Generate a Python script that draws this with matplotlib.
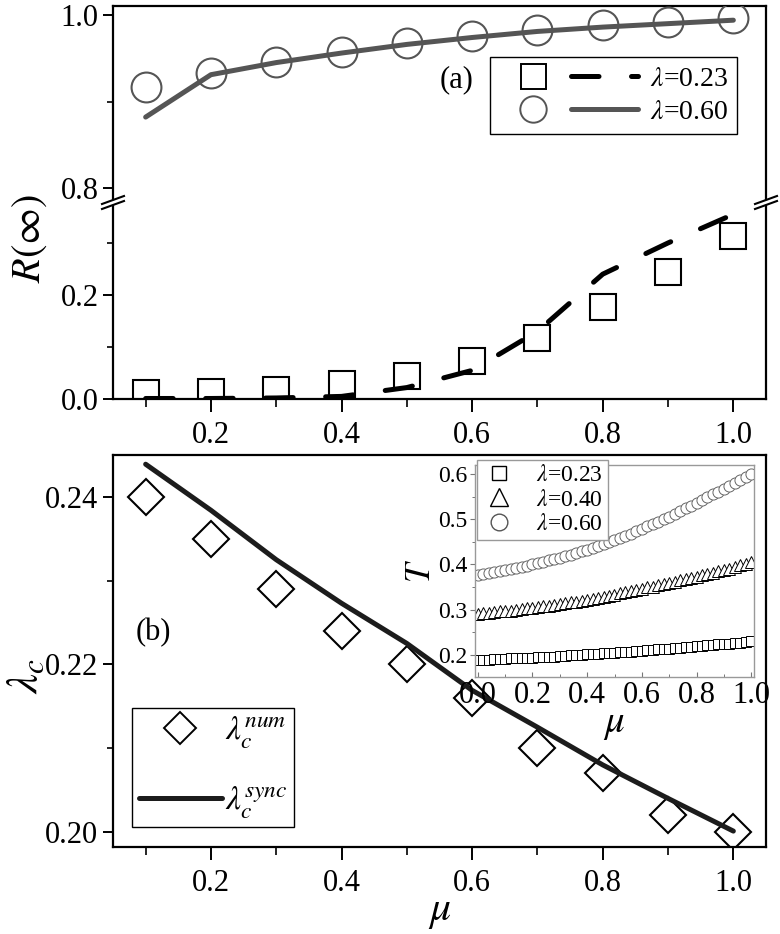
import numpy as np
import matplotlib
matplotlib.use('Agg')
import matplotlib.pyplot as plt
from matplotlib.lines import Line2D
from matplotlib.legend_handler import HandlerTuple
from matplotlib.ticker import MultipleLocator

plt.rcParams['font.family'] = ['Liberation Serif', 'DejaVu Serif']
plt.rcParams['mathtext.fontset'] = 'stix'

# ---- data ----
mu = [0.1, 0.2, 0.3, 0.4, 0.5, 0.6, 0.7, 0.8, 0.9, 1.0]

# panel (a)
R_sim_023 = [0.011, 0.014, 0.018, 0.028, 0.044, 0.073, 0.117, 0.177, 0.244, 0.313]
R_th_023 = [0.001, 0.001, 0.002, 0.005, 0.022, 0.055, 0.130, 0.240, 0.300, 0.355]
R_sim_060 = [0.917, 0.933, 0.946, 0.957, 0.968, 0.976, 0.983, 0.988, 0.992, 0.996]
R_th_060 = [0.882, 0.931, 0.945, 0.956, 0.966, 0.974, 0.981, 0.986, 0.990, 0.994]

# panel (b)
lam_num = [0.240, 0.235, 0.229, 0.224, 0.220, 0.216, 0.210, 0.207, 0.202, 0.200]
lam_sync = [0.2439, 0.2384, 0.2325, 0.2273, 0.2225, 0.2169, 0.2125, 0.2080, 0.2040, 0.2001]

# inset
mu_in = [0.00, 0.02, 0.04, 0.06, 0.08, 0.10, 0.12, 0.14, 0.16, 0.18,
         0.20, 0.22, 0.24, 0.26, 0.28, 0.30, 0.32, 0.34, 0.36, 0.38,
         0.40, 0.42, 0.44, 0.46, 0.48, 0.50, 0.52, 0.54, 0.56, 0.58,
         0.60, 0.62, 0.64, 0.66, 0.68, 0.70, 0.72, 0.74, 0.76, 0.78,
         0.80, 0.82, 0.84, 0.86, 0.88, 0.90, 0.92, 0.94, 0.96, 0.98, 1.00]
T_023 = [0.188, 0.189, 0.189, 0.190, 0.190, 0.191, 0.192, 0.192, 0.193, 0.193,
         0.194, 0.195, 0.195, 0.196, 0.196, 0.197, 0.198, 0.199, 0.199, 0.200,
         0.201, 0.202, 0.202, 0.203, 0.204, 0.205, 0.206, 0.207, 0.207, 0.208,
         0.209, 0.210, 0.211, 0.212, 0.213, 0.214, 0.215, 0.216, 0.217, 0.218,
         0.219, 0.220, 0.221, 0.222, 0.223, 0.224, 0.225, 0.226, 0.227, 0.229, 0.230]
T_040 = [0.291, 0.292, 0.293, 0.294, 0.296, 0.297, 0.298, 0.300, 0.301, 0.303,
         0.304, 0.306, 0.307, 0.309, 0.310, 0.312, 0.314, 0.316, 0.318, 0.320,
         0.322, 0.324, 0.326, 0.328, 0.331, 0.333, 0.336, 0.338, 0.341, 0.343,
         0.346, 0.349, 0.351, 0.354, 0.356, 0.359, 0.362, 0.365, 0.367, 0.370,
         0.373, 0.376, 0.379, 0.382, 0.385, 0.388, 0.391, 0.395, 0.398, 0.402, 0.405]
T_060 = [0.377, 0.379, 0.381, 0.383, 0.385, 0.388, 0.390, 0.392, 0.395, 0.397,
         0.400, 0.403, 0.406, 0.409, 0.412, 0.415, 0.418, 0.422, 0.425, 0.429,
         0.433, 0.437, 0.441, 0.445, 0.449, 0.454, 0.459, 0.463, 0.468, 0.473,
         0.478, 0.484, 0.489, 0.495, 0.500, 0.506, 0.512, 0.518, 0.524, 0.530,
         0.537, 0.543, 0.549, 0.555, 0.561, 0.567, 0.573, 0.580, 0.586, 0.593, 0.600]
mu_line = [0.0, 0.1, 0.2, 0.3, 0.4, 0.5, 0.6, 0.7, 0.8, 0.9, 1.0]
Tline_023 = [0.181, 0.184, 0.187, 0.190, 0.194, 0.198, 0.202, 0.206, 0.211, 0.216, 0.221]
Tline_040 = [0.282, 0.287, 0.294, 0.302, 0.311, 0.322, 0.334, 0.346, 0.360, 0.376, 0.393]

GRAY = '#555555'
W, H = 780, 934

fig = plt.figure(figsize=(7.8, 9.34), dpi=100)


def box(x0, y0, x1, y1):
    # pixel box (top-left origin) -> figure fraction rect
    return [x0 / W, 1 - y1 / H, (x1 - x0) / W, (y1 - y0) / H]


ax_hi = fig.add_axes(box(113, 6, 766, 199))
ax_lo = fig.add_axes(box(113, 206, 766, 399))
ax_b = fig.add_axes(box(113, 455, 766, 847))
ax_in = fig.add_axes(box(475, 465, 754, 677))


def style_ax(ax, lab=22):
    for s in ax.spines.values():
        s.set_linewidth(1.6)
    ax.tick_params(which='major', direction='out', length=7, width=1.4, labelsize=lab)
    ax.tick_params(which='minor', direction='out', length=4.5, width=1.2)
    ax.tick_params(top=False, right=False)


# ---- panel (a) ----
ax_hi.plot(mu, R_th_060, color=GRAY, lw=3.6, solid_capstyle='round', zorder=2)
ax_hi.plot(mu, R_sim_060, ls='none', marker='o', ms=21.5, mfc='none', mec=GRAY, mew=1.5, zorder=3)
ax_lo.plot(mu, R_sim_023, ls='none', marker='s', ms=18.2, mfc='white', mec='black', mew=1.5, zorder=2)
ax_lo.plot(mu, R_th_023, color='black', lw=3.6, dashes=(5.5, 6.5), dash_capstyle='round', zorder=3)

for ax in (ax_hi, ax_lo):
    ax.set_xlim(0.05, 1.05)
    style_ax(ax)
    ax.xaxis.set_major_locator(MultipleLocator(0.2))
    ax.xaxis.set_minor_locator(MultipleLocator(0.1))

ax_hi.set_ylim(0.7873, 1.0104)
ax_hi.yaxis.set_major_locator(MultipleLocator(0.2))
ax_hi.yaxis.set_minor_locator(MultipleLocator(0.1))
ax_hi.yaxis.set_major_formatter(plt.FormatStrFormatter('%.1f'))
ax_hi.spines['bottom'].set_visible(False)
ax_hi.tick_params(which='both', bottom=False, labelbottom=False)

ax_lo.set_ylim(0, 0.371)
ax_lo.yaxis.set_major_locator(MultipleLocator(0.2))
ax_lo.yaxis.set_minor_locator(MultipleLocator(0.1))
ax_lo.yaxis.set_major_formatter(plt.FormatStrFormatter('%.1f'))
ax_lo.xaxis.set_major_formatter(plt.FormatStrFormatter('%.1f'))
ax_lo.spines['top'].set_visible(False)
ax_lo.tick_params(axis='x', which='major', length=9, pad=7)
ax_lo.tick_params(axis='x', which='minor', length=6)

# break marks
for xc in (113, 766):
    for dy in (0, 5):
        x0, y0, x1, y1 = xc - 11, 209 - dy, xc + 11, 201 - dy
        fig.add_artist(Line2D([x0 / W, x1 / W], [1 - y0 / H, 1 - y1 / H],
                              color='black', lw=1.5, transform=fig.transFigure))

fig.text(30 / W, 1 - 238 / H, r'$R(\infty)$', fontsize=29, rotation=90,
         ha='center', va='center')
fig.text(457 / W, 1 - 80 / H, '(a)', fontsize=22, ha='center', va='center')

h_sq = Line2D([], [], ls='none', marker='s', ms=18, mfc='white', mec='black', mew=1.4)
h_da = Line2D([], [], color='black', lw=3.6, dashes=(5.5, 6.5), dash_capstyle='round')
h_ci = Line2D([], [], ls='none', marker='o', ms=19, mfc='none', mec=GRAY, mew=1.4)
h_so = Line2D([], [], color=GRAY, lw=3.6, solid_capstyle='round')
leg_a = ax_hi.legend([(h_sq, h_da), (h_ci, h_so)], [r'$\lambda$=0.23', r'$\lambda$=0.60'],
                     handler_map={tuple: HandlerTuple(ndivide=None, pad=0.15)},
                     loc='upper left', bbox_to_anchor=(0.577, 0.736), borderaxespad=0,
                     fontsize=20, handlelength=5, handletextpad=0.4, labelspacing=0.25,
                     borderpad=0.35, fancybox=False, edgecolor='black', framealpha=1)
leg_a.get_frame().set_linewidth(1.0)

# ---- panel (b) ----
ax_b.plot(mu, lam_sync, color='#1c1c1c', lw=3.6, solid_capstyle='round', zorder=3)
ax_b.plot(mu, lam_num, ls='none', marker='D', ms=18.1, mfc='white', mec='black', mew=1.5, zorder=2)
ax_b.set_xlim(0.05, 1.05)
ax_b.set_ylim(0.1982, 0.245)
style_ax(ax_b)
ax_b.xaxis.set_major_locator(MultipleLocator(0.2))
ax_b.xaxis.set_minor_locator(MultipleLocator(0.1))
ax_b.xaxis.set_major_formatter(plt.FormatStrFormatter('%.1f'))
ax_b.yaxis.set_major_locator(MultipleLocator(0.02))
ax_b.yaxis.set_minor_locator(MultipleLocator(0.01))
ax_b.yaxis.set_major_formatter(plt.FormatStrFormatter('%.2f'))
ax_b.tick_params(axis='x', which='major', length=9, pad=7)
ax_b.tick_params(axis='x', which='minor', length=6)
fig.text(440 / W, 1 - 912 / H, r'$\mu$', fontsize=30, ha='center', va='center')
fig.text(27 / W, 1 - 676 / H, r'$\lambda_c$', fontsize=32, rotation=90,
         ha='center', va='center')
ax_b.text(0.062, 0.547, '(b)', transform=ax_b.transAxes, fontsize=22,
          ha='center', va='center')

h_di = Line2D([], [], ls='none', marker='D', ms=16, mfc='white', mec='black', mew=1.4)
h_ln = Line2D([], [], color='#1c1c1c', lw=3.6, solid_capstyle='round')
leg_b = ax_b.legend([h_di, h_ln], [r'$\lambda_c^{num}$', r'$\lambda_c^{sync}$'],
                    loc='lower left', bbox_to_anchor=(0.029, 0.051), borderaxespad=0,
                    fontsize=24, handlelength=2.5, handletextpad=0.1, labelspacing=1.0,
                    borderpad=0.2, fancybox=False, edgecolor='black', framealpha=1)
leg_b.get_frame().set_linewidth(1.0)

# ---- inset ----
ax_in.set_zorder(5)
ax_in.plot(mu_line, Tline_023, color='black', lw=1.3)
ax_in.plot(mu_line, Tline_040, color='black', lw=1.3)
ax_in.plot(mu_in, T_023, ls='none', marker='s', ms=7, mfc='white', mec='black', mew=0.7)
ax_in.plot(mu_in, T_040, ls='none', marker='^', ms=8.5, mfc='white', mec='black', mew=0.7)
ax_in.plot(mu_in, T_060, ls='none', marker='o', ms=8, mfc='white', mec='#666666', mew=0.7)
ax_in.set_xlim(-0.01, 1.01)
ax_in.set_ylim(0.151, 0.62)
for s in ax_in.spines.values():
    s.set_color('#999999')
    s.set_linewidth(1.0)
ax_in.tick_params(which='major', direction='out', length=3.5, width=0.8, color='#777777')
ax_in.tick_params(which='minor', direction='out', length=2, width=0.7, color='#777777')
ax_in.tick_params(axis='x', which='both', direction='in', labelsize=22, pad=3)
ax_in.tick_params(axis='y', labelsize=17, pad=2)
ax_in.xaxis.set_major_locator(MultipleLocator(0.2))
ax_in.xaxis.set_minor_locator(MultipleLocator(0.1))
ax_in.yaxis.set_major_locator(MultipleLocator(0.1))
ax_in.yaxis.set_minor_locator(MultipleLocator(0.05))
ax_in.xaxis.set_major_formatter(plt.FormatStrFormatter('%.1f'))
ax_in.yaxis.set_major_formatter(plt.FormatStrFormatter('%.1f'))
ax_in.set_xlabel(r'$\mu$', fontsize=28, labelpad=-4)
ax_in.set_ylabel(r'$T$', fontsize=25, labelpad=0)

hi_sq = Line2D([], [], ls='none', marker='s', ms=10.5, mfc='white', mec='black', mew=1.0)
hi_tr = Line2D([], [], ls='none', marker='^', ms=13, mfc='white', mec='black', mew=1.0)
hi_ci = Line2D([], [], ls='none', marker='o', ms=12, mfc='white', mec='#555555', mew=1.0)
leg_in = ax_in.legend([hi_sq, hi_tr, hi_ci],
                      [r'$\lambda$=0.23', r'$\lambda$=0.40', r'$\lambda$=0.60'],
                      loc='upper left', bbox_to_anchor=(0.007, 1.024), borderaxespad=0,
                      fontsize=17, handlelength=1.5, handletextpad=0.8, labelspacing=0.12,
                      borderpad=0.2, fancybox=False, edgecolor='#999999', framealpha=1)
leg_in.get_frame().set_linewidth(1.0)

fig.savefig('out.png', dpi=100)
